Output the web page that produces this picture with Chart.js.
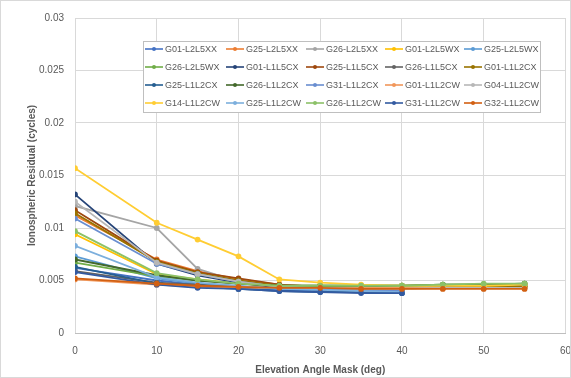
<!DOCTYPE html>
<html><head><meta charset="utf-8">
<script src="https://cdn.jsdelivr.net/npm/chart.js@4/dist/chart.umd.min.js"></script>
<style>html,body{margin:0;padding:0;background:#fff}#wrap{width:571px;height:378px;position:relative;box-sizing:border-box}</style>
</head><body><div id="wrap"><canvas id="c" width="571" height="378"></canvas></div>
<script>
const elevation=[0,10,15,20,25,30,35,40,45,50,55];
const xTicks=[0,10,20,30,40,50,60];
const yTicks=[0,0.005,0.01,0.015,0.02,0.025,0.03];
const seriesNames=["G01-L2L5XX","G25-L2L5XX","G26-L2L5XX","G01-L2L5WX","G25-L2L5WX",
"G26-L2L5WX","G01-L1L5CX","G25-L1L5CX","G26-L1L5CX","G01-L1L2CX",
"G25-L1L2CX","G26-L1L2CX","G31-L1L2CX","G01-L1L2CW","G04-L1L2CW",
"G14-L1L2CW","G25-L1L2CW","G26-L1L2CW","G31-L1L2CW","G32-L1L2CW"];
const seriesColors=["#4472C4","#ED7D31","#A5A5A5","#FFC000","#5B9BD5",
"#70AD47","#264478","#9E480E","#636363","#997300",
"#255E91","#43682B","#698ED0","#F1975A","#B7B7B7",
"#FFCD33","#7CAFDD","#8CC168","#335AA1","#D26012"];
const G01_L2L5XX=[0.0062,0.0050,0.0046,0.0043,0.0041,0.0040,0.0039,0.0038,null,null,null];
const G25_L2L5XX=[0.0112,0.0070,0.0059,0.0051,0.0046,0.0044,0.0043,0.0043,0.0043,0.0043,0.0043];
const G26_L2L5XX=[0.0121,0.0100,0.0061,0.0049,0.0044,0.0042,0.0041,0.0040,null,null,null];
const G01_L2L5WX=[0.0094,0.0056,0.0051,0.0047,0.0044,0.0043,0.0043,0.0043,0.0044,0.0044,0.0044];
const G25_L2L5WX=[0.0073,0.0052,0.0047,0.0044,0.0042,0.0041,0.0040,0.0039,null,null,null];
const G26_L2L5WX=[0.0067,0.0054,0.0050,0.0047,0.0045,0.0045,0.0045,0.0045,0.0046,0.0046,0.0047];
const G01_L1L5CX=[0.0132,0.0066,0.0055,0.0048,0.0043,0.0041,0.0040,0.0039,null,null,null];
const G25_L1L5CX=[0.0117,0.0069,0.0058,0.0052,0.0046,0.0044,0.0043,0.0043,0.0043,0.0043,0.0044];
const G26_L1L5CX=[0.0059,0.0048,0.0046,0.0044,0.0043,0.0043,0.0043,0.0043,0.0044,0.0044,0.0045];
const G01_L1L2CX=[0.0114,0.0068,0.0057,0.0050,0.0045,0.0044,0.0043,0.0043,0.0043,0.0044,0.0044];
const G25_L1L2CX=[0.0063,0.0047,0.0044,0.0042,0.0040,0.0039,0.0039,0.0038,null,null,null];
const G26_L1L2CX=[0.0070,0.0055,0.0050,0.0047,0.0045,0.0045,0.0045,0.0045,0.0046,0.0046,0.0047];
const G31_L1L2CX=[0.0109,0.0066,0.0056,0.0049,0.0044,0.0042,0.0041,0.0040,null,null,null];
const G01_L1L2CW=[0.0051,0.0046,0.0044,0.0043,0.0043,0.0043,0.0043,0.0043,0.0043,0.0043,0.0043];
const G04_L1L2CW=[0.0125,0.0067,0.0056,0.0049,0.0044,0.0043,0.0042,0.0042,0.0043,0.0043,0.0043];
const G14_L1L2CW=[0.0157,0.0105,0.0089,0.0073,0.0051,0.0048,0.0046,0.0045,0.0045,0.0045,0.0046];
const G25_L1L2CW=[0.0083,0.0053,0.0048,0.0045,0.0042,0.0041,0.0040,0.0039,null,null,null];
const G26_L1L2CW=[0.0097,0.0057,0.0051,0.0047,0.0045,0.0045,0.0045,0.0045,0.0046,0.0047,0.0047];
const G31_L1L2CW=[0.0058,0.0046,0.0043,0.0042,0.0040,0.0039,0.0038,0.0038,null,null,null];
const G32_L1L2CW=[0.0052,0.0047,0.0045,0.0044,0.0043,0.0043,0.0042,0.0042,0.0042,0.0042,0.0042];
const seriesValues=[G01_L2L5XX,G25_L2L5XX,G26_L2L5XX,G01_L2L5WX,G25_L2L5WX,
G26_L2L5WX,G01_L1L5CX,G25_L1L5CX,G26_L1L5CX,G01_L1L2CX,
G25_L1L2CX,G26_L1L2CX,G31_L1L2CX,G01_L1L2CW,G04_L1L2CW,
G14_L1L2CW,G25_L1L2CW,G26_L1L2CW,G31_L1L2CW,G32_L1L2CW];

const FONT="'Liberation Sans', Arial, sans-serif";
const datasets=seriesNames.map((n,i)=>({
  label:n,
  data:elevation.map((x,j)=>({x:x,y:seriesValues[i][j]})).filter(p=>p.y!==null),
  borderColor:seriesColors[i],backgroundColor:seriesColors[i],
  borderWidth:1.8,pointRadius:2,pointHoverRadius:2,tension:0,
  order:20-i
}));

const boxLegend={
  id:'boxLegend',
  afterDatasetsDraw(chart){
    const ctx=chart.ctx;
    const bx=143,by=41,bw=397,bh=71;
    ctx.save();
    ctx.fillStyle='#fff';ctx.fillRect(bx,by,bw,bh);
    ctx.strokeStyle='#BFBFBF';ctx.lineWidth=1;ctx.strokeRect(bx+0.5,by+0.5,bw,bh);
    const colX=[145,226,306,385,464];
    const rowY=[49,67,85,103];
    ctx.font="9px "+FONT;ctx.textBaseline='middle';ctx.textAlign='left';
    chart.data.datasets.forEach((d,i)=>{
      const c=i%5,r=Math.floor(i/5);
      const x=colX[c],y=rowY[r];
      ctx.strokeStyle=d.borderColor;ctx.lineWidth=1.6;
      ctx.beginPath();ctx.moveTo(x,y);ctx.lineTo(x+18,y);ctx.stroke();
      ctx.fillStyle=d.borderColor;ctx.beginPath();ctx.arc(x+9,y,2,0,Math.PI*2);ctx.fill();
      ctx.fillStyle='#595959';ctx.fillText(d.label,x+20,y+0.5);
    });
    ctx.restore();
  }
};
const frame={
  id:'frame',
  afterDraw(chart){
    const ctx=chart.ctx;ctx.save();
    ctx.strokeStyle='#D9D9D9';ctx.lineWidth=1;ctx.strokeRect(0.5,0.5,570,377);
    ctx.restore();
  }
};

new Chart(document.getElementById('c'),{
  type:'line',
  data:{datasets:datasets},
  plugins:[boxLegend,frame],
  options:{
    responsive:false,animation:false,
    layout:{padding:{left:26,top:18,right:0,bottom:2}},
    plugins:{legend:{display:false},tooltip:{enabled:false}},
    scales:{
      x:{type:'linear',min:0,max:60,
        afterBuildTicks(s){s.ticks=xTicks.map(v=>({value:v}));},
        afterFit(s){s.height=43;},
        grid:{color:'#D9D9D9',drawTicks:true,tickLength:12,tickColor:'rgba(0,0,0,0)'},
        border:{color:'#BFBFBF'},
        ticks:{padding:0,color:'#595959',font:{family:FONT,size:10}},
        title:{display:true,text:'Elevation Angle Mask (deg)',color:'#595959',font:{family:FONT,size:10,weight:'bold'},padding:{top:0,bottom:0}}
      },
      y:{type:'linear',min:0,max:0.03,
        afterBuildTicks(s){s.ticks=yTicks.map(v=>({value:v}));},
        afterFit(s){s.width=49;},
        grid:{color:'#D9D9D9',drawTicks:false},
        border:{display:false},
        ticks:{padding:11,color:'#595959',font:{family:FONT,size:10},callback:v=>String(+v.toFixed(3))},
        title:{display:true,text:'Ionospheric Residual (cycles)',color:'#595959',font:{family:FONT,size:10,weight:'bold'},padding:{top:0,bottom:0}}
      }
    }
  }
});
</script></body></html>
